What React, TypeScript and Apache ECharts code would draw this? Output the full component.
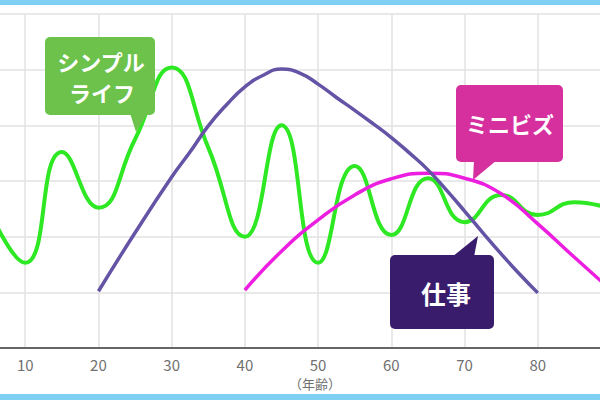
import { useEffect, useRef } from 'react';
import * as echarts from 'echarts';

// 年齢（x軸）
const ages = [5, 10, 15, 20, 25, 30, 35, 40, 45, 50, 55, 60, 65, 70, 75, 80, 85, 90];

// シンプルライフ
const simpleLife = [2.5, 1.53, 3.52, 2.52, 3.75, 5.04, 3.6, 2.0, 4.0, 1.53, 3.27, 2.03, 3.05, 2.26, 2.75, 2.39, 2.62, 2.5];
// ミニビズ
const miniBiz = [null, null, null, null, null, null, null, 1.04, 1.74, 2.3, 2.75, 3.04, 3.14, 3.05, 2.77, 2.23, 1.63, 1.04];

// 仕事（細かめに読み取り）
const workAges = [20, 25, 30, 32.5, 35, 37.5, 40, 42.5, 45, 47.5, 50, 52.5, 55, 57.5, 60, 62.5, 65, 67.5, 70, 72.5, 75, 77.5, 80];
const work = [1.02, 2.07, 3.07, 3.52, 3.99, 4.37, 4.69, 4.9, 5.01, 4.94, 4.74, 4.5, 4.27, 4.03, 3.78, 3.5, 3.2, 2.84, 2.46, 2.07, 1.69, 1.33, 0.99];

const xTicks = [0, 10, 20, 30, 40, 50, 60, 70, 80, 90];

const FONT = '"Noto Sans CJK JP", "Noto Sans", sans-serif';

const toPairs = (xs: number[], vals: (number | null)[]) =>
  xs.map((a, i) => [a, vals[i]]).filter((p) => p[1] !== null);

const App = () => {
  const chartRef = useRef<HTMLDivElement>(null);

  useEffect(() => {
    document.body.style.margin = '0';
    if (!chartRef.current) return;
    const chart = echarts.init(chartRef.current, undefined, { renderer: 'svg' });

    const option = {
      animation: false,
      backgroundColor: '#ffffff',
      grid: {
        left: -48,
        right: -11,
        top: 14,
        bottom: 52,
        containLabel: false,
        outerBoundsMode: 'none',
      },
      xAxis: {
        type: 'value',
        min: xTicks[0],
        max: xTicks[xTicks.length - 1],
        interval: 10,
        axisLine: { show: true, lineStyle: { color: '#666', width: 2 } },
        axisTick: { show: false },
        axisLabel: {
          showMinLabel: false,
          showMaxLabel: false,
          color: '#707070',
          fontSize: 15,
          fontFamily: FONT,
          margin: 9,
        },
        splitLine: { show: true, lineStyle: { color: '#e2e2e2', width: 1.5 } },
      },
      yAxis: {
        type: 'value',
        min: 0,
        max: 6,
        interval: 1,
        axisLine: { show: false },
        axisTick: { show: false },
        axisLabel: { show: false },
        splitLine: { show: true, lineStyle: { color: '#e2e2e2', width: 1.5 } },
      },
      series: [
        {
          name: 'シンプルライフ',
          type: 'line',
          smooth: 0.5,
          symbol: 'none',
          lineStyle: { color: '#2ee823', width: 4 },
          data: toPairs(ages, simpleLife),
          z: 2,
        },
        {
          name: 'ミニビズ',
          type: 'line',
          smooth: 0.5,
          symbol: 'none',
          lineStyle: { color: '#ec1fe0', width: 3.5 },
          data: toPairs(ages, miniBiz),
          z: 3,
        },
        {
          name: '仕事',
          type: 'line',
          smooth: 0.5,
          symbol: 'none',
          lineStyle: { color: '#6553a6', width: 3.5 },
          data: toPairs(workAges, work),
          z: 4,
        },
      ],
      graphic: [
        // 上下の水色の帯
        { type: 'rect', z: 100, shape: { x: 0, y: 0, width: 600, height: 5 }, style: { fill: '#7ecff3' } },
        { type: 'rect', z: 100, shape: { x: 0, y: 394, width: 600, height: 6 }, style: { fill: '#7ecff3' } },
        {
          type: 'text',
          z: 100,
          x: 315,
          y: 383,
          style: {
            text: '（年齢）',
            fill: '#6f6f6f',
            font: `13px ${FONT}`,
            textAlign: 'center',
            textVerticalAlign: 'middle',
          },
        },
        // シンプルライフ 吹き出し
        { type: 'rect', z: 100, shape: { x: 45, y: 37, width: 110, height: 78, r: 5 }, style: { fill: '#6cc24a' } },
        { type: 'polygon', z: 100, shape: { points: [[130, 113], [148, 113], [136, 132]] }, style: { fill: '#6cc24a' } },
        {
          type: 'text',
          z: 101,
          x: 101,
          y: 61,
          style: { text: 'シンプル', fill: '#fff', font: `bold 22px ${FONT}`, textAlign: 'center', textVerticalAlign: 'middle' },
        },
        {
          type: 'text',
          z: 101,
          x: 102,
          y: 92,
          style: { text: 'ライフ', fill: '#fff', font: `bold 22px ${FONT}`, textAlign: 'center', textVerticalAlign: 'middle' },
        },
        // ミニビズ 吹き出し
        { type: 'rect', z: 100, shape: { x: 456, y: 85, width: 107, height: 77, r: 5 }, style: { fill: '#d6309f' } },
        { type: 'polygon', z: 100, shape: { points: [[474, 160], [497, 160], [473, 180]] }, style: { fill: '#d6309f' } },
        {
          type: 'text',
          z: 101,
          x: 510,
          y: 123,
          style: { text: 'ミニビズ', fill: '#fff', font: `bold 22px ${FONT}`, textAlign: 'center', textVerticalAlign: 'middle' },
        },
        // 仕事 吹き出し
        { type: 'rect', z: 100, shape: { x: 390, y: 255, width: 104, height: 74, r: 5 }, style: { fill: '#3a1c6d' } },
        { type: 'polygon', z: 100, shape: { points: [[452, 257], [474, 257], [478, 236]] }, style: { fill: '#3a1c6d' } },
        {
          type: 'text',
          z: 101,
          x: 446,
          y: 293,
          style: { text: '仕事', fill: '#fff', font: `bold 25px ${FONT}`, textAlign: 'center', textVerticalAlign: 'middle' },
        },
      ],
    };

    chart.setOption(option);
    return () => {
      chart.dispose();
    };
  }, []);

  return <div ref={chartRef} style={{ width: 600, height: 400 }} />;
};

export default App;
